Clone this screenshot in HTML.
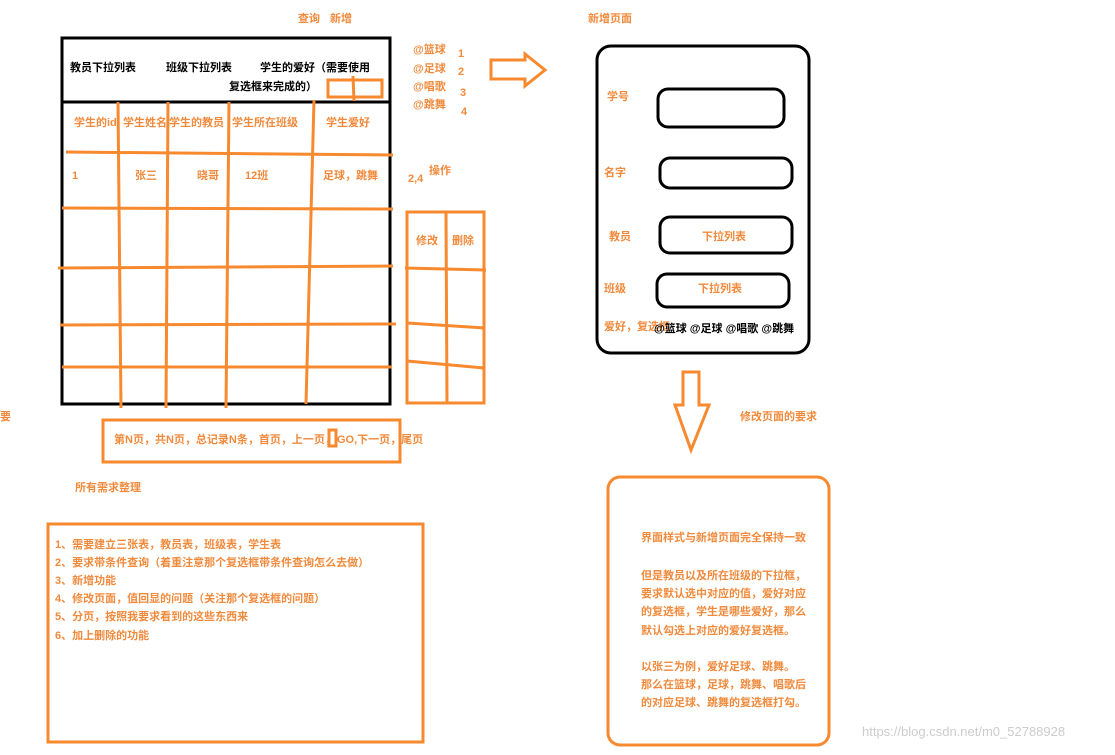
<!DOCTYPE html>
<html><head><meta charset="utf-8"><style>
body{margin:0;background:#fff;}
svg text{font-family:"Liberation Sans","Noto Sans CJK SC",sans-serif;font-size:11px;font-weight:bold;}
.o{fill:#f08a3c;}
.k{fill:#000;}
</style></head><body>
<svg width="1115" height="750" xmlns="http://www.w3.org/2000/svg">
<g fill="none" stroke="#000" stroke-width="3">
<rect x="62" y="38" width="328" height="366"/>
<line x1="62" y1="102" x2="390" y2="102"/>
<rect x="597" y="46" width="212" height="307" rx="14"/>
<rect x="658" y="89" width="126" height="38" rx="10"/>
<rect x="660" y="158" width="132" height="30" rx="10"/>
<rect x="660" y="217" width="132" height="36" rx="10"/>
<rect x="657" y="274" width="132" height="33" rx="10"/>
</g>
<g fill="none" stroke="#f7892f" stroke-width="3">
<path d="M118 102 L121 408"/><path d="M168 102 L166 408"/><path d="M229 102 L226 408"/><path d="M314 100 L306 404"/>
<path d="M66 152 L393 155"/><path d="M62 208 L393 209"/><path d="M58 268 L393 266"/><path d="M60 325 L396 324"/><path d="M62 367 L392 367"/>
<rect x="407" y="212" width="77" height="191"/>
<path d="M446 212 L447 403"/><path d="M405 268 L486 270"/><path d="M407 323 L485 328"/><path d="M407 361 L484 368"/>
<rect x="328" y="80" width="54" height="17"/><path d="M353 76 L354 101"/>
<path d="M491 60 L525 60 L525 54 L545 70 L525 86 L525 79 L491 79 Z"/>
<rect x="103" y="420" width="297" height="42"/>
<rect x="329" y="430" width="7" height="16"/>
<rect x="48" y="524" width="375" height="218"/>
<path d="M683 372 L699 372 L699 405 L709 405 L691 450 L675 405 L683 405 Z"/>
<rect x="608" y="477" width="221" height="268" rx="12"/>
</g>
<text x="298" y="22" class="o">查询</text><text x="330" y="22" class="o">新增</text>
<text x="70" y="71" class="k">教员下拉列表</text><text x="166" y="71" class="k">班级下拉列表</text>
<text x="260" y="71" class="k">学生的爱好（需要使用</text><text x="229" y="90" class="k">复选框来完成的）</text>
<text x="413" y="53" class="o">@篮球</text><text x="413" y="72" class="o">@足球</text><text x="413" y="90" class="o">@唱歌</text><text x="413" y="108" class="o">@跳舞</text>
<text x="458" y="57" class="o">1</text><text x="458" y="75" class="o">2</text><text x="460" y="96" class="o">3</text><text x="461" y="115" class="o">4</text>
<text x="74" y="126" class="o">学生的id</text><text x="123" y="126" class="o">学生姓名</text><text x="169" y="126" class="o">学生的教员</text><text x="232" y="126" class="o">学生所在班级</text><text x="326" y="126" class="o">学生爱好</text>
<text x="72" y="179" class="o">1</text><text x="135" y="179" class="o">张三</text><text x="197" y="179" class="o">晓哥</text><text x="245" y="179" class="o">12班</text><text x="323" y="179" class="o">足球，跳舞</text>
<text x="408" y="182" class="o">2,4</text><text x="429" y="174" class="o">操作</text>
<text x="416" y="244" class="o">修改</text><text x="452" y="244" class="o">删除</text>
<text x="0" y="420" class="o">要</text>
<text x="114" y="443" class="o">第N页，共N页，总记录N条，首页，上一页，</text><text x="337" y="443" class="o">GO,下一页，尾页</text>
<text x="75" y="491" class="o">所有需求整理</text>
<text x="55" y="548" class="o">1、需要建立三张表，教员表，班级表，学生表</text>
<text x="55" y="566" class="o">2、要求带条件查询（着重注意那个复选框带条件查询怎么去做）</text>
<text x="55" y="584" class="o">3、新增功能</text>
<text x="55" y="602" class="o">4、修改页面，值回显的问题（关注那个复选框的问题）</text>
<text x="55" y="620" class="o">5、分页，按照我要求看到的这些东西来</text>
<text x="55" y="639" class="o">6、加上删除的功能</text>
<text x="588" y="22" class="o">新增页面</text>
<text x="607" y="100" class="o">学号</text><text x="604" y="176" class="o">名字</text><text x="609" y="240" class="o">教员</text><text x="604" y="292" class="o">班级</text>
<text x="702" y="240" class="o">下拉列表</text><text x="698" y="292" class="o">下拉列表</text>
<text x="604" y="330" class="o">爱好，复选框</text><text x="654" y="332" class="k">@篮球 @足球 @唱歌 @跳舞</text>
<text x="740" y="420" class="o">修改页面的要求</text>
<text x="641" y="541" class="o">界面样式与新增页面完全保持一致</text>
<text x="641" y="579" class="o">但是教员以及所在班级的下拉框，</text>
<text x="641" y="597" class="o">要求默认选中对应的值，爱好对应</text>
<text x="641" y="615" class="o">的复选框，学生是哪些爱好，那么</text>
<text x="641" y="634" class="o">默认勾选上对应的爱好复选框。</text>
<text x="641" y="670" class="o">以张三为例，爱好足球、跳舞。</text>
<text x="641" y="688" class="o">那么在篮球，足球，跳舞、唱歌后</text>
<text x="641" y="706" class="o">的对应足球、跳舞的复选框打勾。</text>
<text x="862" y="736" style="fill:#ccc;font-size:13px;font-weight:normal">https://blog.csdn.net/m0_52788928</text>
</svg>
</body></html>
